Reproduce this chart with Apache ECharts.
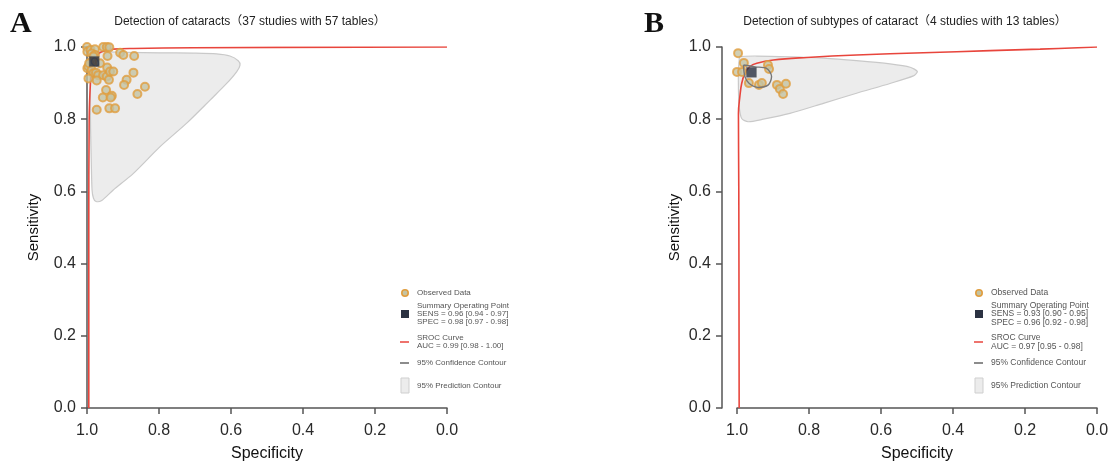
<!DOCTYPE html>
<html>
<head>
<meta charset="utf-8">
<title>SROC curves</title>
<script src="https://cdn.jsdelivr.net/npm/echarts@6/dist/echarts.min.js"></script>
<style>
  html, body { margin: 0; padding: 0; background: #fff; }
  #chart { width: 1110px; height: 464px; }
</style>
</head>
<body>
<div id="chart"></div>
<script>
// ---- Panel A: detection of cataracts ----
const obsSpecA = [1.0, 0.999, 0.990, 0.978, 0.955, 0.945, 0.938, 0.987, 0.978, 0.982, 0.999, 0.996, 0.987, 0.982,
  0.975, 0.969, 0.955, 0.945, 0.996, 0.973, 0.939, 0.944, 0.936, 0.927, 0.943, 0.908, 0.899, 0.869, 0.871, 0.890,
  0.897, 0.839, 0.860, 0.947, 0.956, 0.931, 0.934, 0.938, 0.922, 0.973, 0.987, 0.994, 0.964];
const obsSensA = [1.0, 0.987, 0.992, 0.994, 1.0, 1.0, 0.999, 0.982, 0.978, 0.974, 0.941, 0.946, 0.936, 0.927,
  0.929, 0.922, 0.922, 0.918, 0.913, 0.907, 0.909, 0.943, 0.932, 0.932, 0.975, 0.984, 0.978, 0.975, 0.929, 0.909,
  0.895, 0.890, 0.870, 0.881, 0.860, 0.865, 0.860, 0.830, 0.830, 0.826, 0.959, 0.955, 0.955];
const summaryA = [0.98, 0.96];
const srocSpecA = [0.995, 0.995, 0.994, 0.990, 0.986, 0.978, 0.966, 0.950, 0.927, 0.871, 0.705, 0.0];
const srocSensA = [0.0, 0.5, 0.798, 0.909, 0.946, 0.969, 0.983, 0.990, 0.994, 0.996, 0.998, 1.0];
const confSpecA = [0.985, 0.978, 0.970, 0.968, 0.975, 0.983, 0.988];
const confSensA = [0.968, 0.970, 0.963, 0.952, 0.947, 0.950, 0.960];
const predSpecA = [0.987, 0.964, 0.890, 0.797, 0.705, 0.640, 0.603, 0.580, 0.575, 0.584, 0.612, 0.658, 0.723,
  0.797, 0.871, 0.927, 0.959, 0.975, 0.982, 0.986, 0.988, 0.990, 0.991, 0.991, 0.990];
const predSensA = [0.990, 0.987, 0.985, 0.984, 0.983, 0.981, 0.975, 0.962, 0.950, 0.932, 0.899, 0.853, 0.789,
  0.724, 0.650, 0.604, 0.575, 0.572, 0.581, 0.604, 0.678, 0.770, 0.862, 0.936, 0.973];

// ---- Panel B: detection of subtypes of cataract ----
const obsSpecB = [0.997, 0.981, 1.0, 0.986, 0.967, 0.939, 0.931, 0.914, 0.911, 0.889, 0.881, 0.864, 0.872];
const obsSensB = [0.983, 0.956, 0.931, 0.931, 0.900, 0.895, 0.900, 0.950, 0.939, 0.895, 0.884, 0.898, 0.870];
const summaryB = [0.96, 0.93];
const srocSpecB = [0.994, 0.995, 0.996, 0.992, 0.987, 0.978, 0.964, 0.945, 0.899, 0.806, 0.668, 0.482, 0.297, 0.158, 0.0];
const srocSensB = [0.0, 0.6, 0.816, 0.863, 0.899, 0.927, 0.946, 0.955, 0.964, 0.971, 0.978, 0.984, 0.990, 0.994, 1.0];
const confSpecB = [0.982, 0.950, 0.918, 0.904, 0.913, 0.941, 0.966, 0.978];
const confSensB = [0.950, 0.945, 0.941, 0.918, 0.895, 0.888, 0.899, 0.918];
const predSpecB = [0.992, 0.945, 0.853, 0.760, 0.668, 0.575, 0.519, 0.499, 0.510, 0.575, 0.668, 0.760, 0.853,
  0.927, 0.969, 0.987, 0.994, 0.996, 0.996, 0.994];
const predSensB = [0.973, 0.975, 0.973, 0.969, 0.962, 0.953, 0.944, 0.932, 0.920, 0.899, 0.872, 0.844, 0.816,
  0.800, 0.793, 0.802, 0.835, 0.881, 0.936, 0.964];

const zip = (xs, ys) => xs.map((x, i) => [x, ys[i]]);
const closeLoop = (pts) => pts.concat([pts[0]]);

const FONT = '"Liberation Sans", Arial, "Noto Sans CJK SC", sans-serif';

function xAxisCfg(gridIndex) {
  return {
    gridIndex, type: 'value', min: 0, max: 1, interval: 0.2, inverse: true,
    name: 'Specificity', nameLocation: 'middle', nameGap: 38,
    nameTextStyle: { fontFamily: FONT, fontSize: 16, color: '#111' },
    axisLine: { show: true, onZero: false, lineStyle: { color: '#555', width: 1.5 } },
    axisTick: { show: true, length: 6, lineStyle: { color: '#555', width: 1.5 } },
    axisLabel: { margin: 15, fontFamily: FONT, fontSize: 16, color: '#2a2a2a', formatter: (v) => v.toFixed(1) },
    splitLine: { show: false }
  };
}

function yAxisCfg(gridIndex, offset, gap) {
  return {
    gridIndex, type: 'value', min: 0, max: 1, interval: 0.2, offset,
    name: 'Sensitivity', nameLocation: 'middle', nameGap: gap,
    nameTextStyle: { fontFamily: FONT, fontSize: 15, color: '#111' },
    axisLine: { show: true, onZero: false, lineStyle: { color: '#555', width: 1.5 } },
    axisTick: { show: true, length: 6, lineStyle: { color: '#555', width: 1.5 } },
    axisLabel: { margin: 11, fontFamily: FONT, fontSize: 16, color: '#2a2a2a', formatter: (v) => v.toFixed(1) },
    splitLine: { show: false }
  };
}

// filled prediction region drawn as a polygon through the axis scales
function predictionSeries(idx, pts) {
  return {
    type: 'custom', xAxisIndex: idx, yAxisIndex: idx, z: 1, silent: true,
    data: pts,
    renderItem: (params, api) => {
      if (params.dataIndex !== 0) return null;
      return {
        type: 'polygon',
        shape: { points: pts.map((p) => api.coord(p)), smooth: 0.25 },
        style: { fill: '#ececec', stroke: '#c9c9c9', lineWidth: 1.2 }
      };
    }
  };
}

function panelSeries(idx, obs, summary, sroc, conf, pred) {
  return [
    predictionSeries(idx, pred),
    {
      type: 'line', xAxisIndex: idx, yAxisIndex: idx, z: 2, data: sroc, smooth: 0.4,
      showSymbol: false, lineStyle: { color: '#e8453c', width: 1.6 }, silent: true
    },
    {
      type: 'scatter', xAxisIndex: idx, yAxisIndex: idx, z: 3, data: obs, symbolSize: 8,
      itemStyle: { color: '#c4c3a2', borderColor: '#e09d3e', borderWidth: 2 }, silent: true
    },
    {
      type: 'line', xAxisIndex: idx, yAxisIndex: idx, z: 4, data: closeLoop(conf), smooth: 0.3,
      showSymbol: false, lineStyle: { color: '#777', width: 1.4 }, silent: true
    },
    {
      type: 'scatter', xAxisIndex: idx, yAxisIndex: idx, z: 5, data: [summary], symbol: 'rect', symbolSize: 10,
      itemStyle: { color: '#2b3242', borderColor: '#666', borderWidth: 0.5 }, silent: true
    }
  ];
}

function legendGroup(x, y, fs, sens, spec, auc) {
  const txt = (tx, ty, text) => ({
    type: 'text', x: tx, y: ty,
    style: { text, fontFamily: FONT, fontSize: fs, fill: '#555', lineHeight: fs, verticalAlign: 'middle' }
  });
  const tx = x + 12;
  return {
    type: 'group', silent: true,
    children: [
      { type: 'circle', shape: { cx: x, cy: y, r: 3.2 }, style: { fill: '#c4c3a2', stroke: '#e09d3e', lineWidth: 1.6 } },
      txt(tx, y, 'Observed Data'),
      { type: 'rect', shape: { x: x - 4, y: y + 17, width: 8, height: 8 }, style: { fill: '#2b3242' } },
      txt(tx, y + 21, 'Summary Operating Point\n' + sens + '\n' + spec),
      { type: 'line', shape: { x1: x - 5, y1: y + 49, x2: x + 4, y2: y + 49 }, style: { stroke: '#e8453c', lineWidth: 1.5 } },
      txt(tx, y + 49, 'SROC Curve\n' + auc),
      { type: 'line', shape: { x1: x - 5, y1: y + 70, x2: x + 4, y2: y + 70 }, style: { stroke: '#666', lineWidth: 1.5 } },
      txt(tx, y + 70, '95% Confidence Contour'),
      { type: 'rect', shape: { x: x - 4, y: y + 85, width: 8, height: 15 }, style: { fill: '#ececec', stroke: '#cfcfcf', lineWidth: 1 } },
      txt(tx, y + 93, '95% Prediction Contour')
    ]
  };
}

const chart = echarts.init(document.getElementById('chart'), null, { renderer: 'canvas' });

chart.setOption({
  animation: false,
  backgroundColor: '#fff',
  grid: [
    { left: 87, top: 47, width: 360, height: 361, outerBoundsMode: 'none' },
    { left: 737, top: 47, width: 360, height: 361, outerBoundsMode: 'none' }
  ],
  xAxis: [xAxisCfg(0), xAxisCfg(1)],
  yAxis: [yAxisCfg(0, 0, 46), yAxisCfg(1, 15, 40)],
  series: [
    ...panelSeries(0, zip(obsSpecA, obsSensA), summaryA, zip(srocSpecA, srocSensA), zip(confSpecA, confSensA), zip(predSpecA, predSensA)),
    ...panelSeries(1, zip(obsSpecB, obsSensB), summaryB, zip(srocSpecB, srocSensB), zip(confSpecB, confSensB), zip(predSpecB, predSensB))
  ],
  graphic: [
    { type: 'text', left: 10, top: 9, silent: true,
      style: { text: 'A', fontFamily: '"Liberation Serif", "DejaVu Serif", serif', fontWeight: 'bold', fontSize: 30, fill: '#111' } },
    { type: 'text', left: 644, top: 9, silent: true,
      style: { text: 'B', fontFamily: '"Liberation Serif", "DejaVu Serif", serif', fontWeight: 'bold', fontSize: 30, fill: '#111' } },
    { type: 'text', x: 250, y: 22, silent: true,
      style: { text: 'Detection of cataracts（37 studies with 57 tables）', fontFamily: FONT, fontSize: 12, fill: '#222', align: 'center', verticalAlign: 'middle' } },
    { type: 'text', x: 905, y: 22, silent: true,
      style: { text: 'Detection of subtypes of cataract（4 studies with 13 tables）', fontFamily: FONT, fontSize: 12, fill: '#222', align: 'center', verticalAlign: 'middle' } },
    legendGroup(405, 293, 8, 'SENS = 0.96 [0.94 - 0.97]', 'SPEC = 0.98 [0.97 - 0.98]', 'AUC = 0.99 [0.98 - 1.00]'),
    legendGroup(979, 293, 8.5, 'SENS = 0.93 [0.90 - 0.95]', 'SPEC = 0.96 [0.92 - 0.98]', 'AUC = 0.97 [0.95 - 0.98]')
  ]
});
</script>
</body>
</html>
